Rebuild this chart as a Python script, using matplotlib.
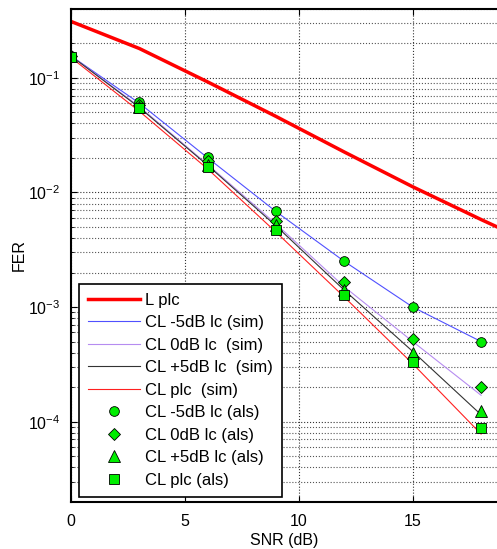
import numpy as np
import matplotlib
matplotlib.use('Agg')
import matplotlib.pyplot as plt
from matplotlib.ticker import LogLocator, NullFormatter

plt.rcParams['font.family'] = ['Liberation Sans', 'DejaVu Sans']

# SNR points (dB)
snr = [0, 3, 6, 9, 12, 15, 18]
# legacy plc, extends past the right edge of the plot
snr_l = [0, 3, 6, 9, 12, 15, 18, 19]
fer_l = [0.31, 0.18, 0.092, 0.046, 0.0225, 0.0112, 0.0058, 0.0047]

# simulated curves
sim_m5 = [0.155, 0.060, 0.0200, 0.0068, 0.0025, 0.00100, 0.00050]
sim_0 = [0.155, 0.056, 0.0175, 0.0053, 0.00150, 0.00050, 0.00017]
sim_p5 = [0.155, 0.055, 0.0172, 0.0051, 0.00140, 0.00041, 0.000115]
sim_plc = [0.150, 0.051, 0.0160, 0.0045, 0.00122, 0.00032, 0.000078]

# analytical points
als_m5 = [0.156, 0.062, 0.0205, 0.0069, 0.0025, 0.00101, 0.000495]
als_0 = [0.155, 0.058, 0.0187, 0.0056, 0.00166, 0.00053, 0.000200]
als_p5 = [0.154, 0.056, 0.0175, 0.0052, 0.00142, 0.00040, 0.000124]
als_plc = [0.152, 0.054, 0.0168, 0.0047, 0.00128, 0.00033, 0.0000887]

fig = plt.figure(figsize=(4.97, 5.49), dpi=100)
ax = fig.add_axes([0.143, 0.086, 0.857, 0.898])

ax.semilogy(snr_l, fer_l, color='red', lw=2.5, label='L plc')
ax.semilogy(snr, sim_m5, color='#5050ff', lw=0.8, label='CL -5dB lc (sim)')
ax.semilogy(snr, sim_0, color='#b68cf0', lw=0.8, label='CL 0dB lc  (sim)')
ax.semilogy(snr, sim_p5, color='#333333', lw=0.8, label='CL +5dB lc  (sim)')
ax.semilogy(snr, sim_plc, color='#ff2020', lw=0.8, label='CL plc  (sim)')

mk = dict(ls='none', mfc='#00ee00', mec='black', mew=0.6)
ax.semilogy(snr, als_m5, marker='o', ms=7, label='CL -5dB lc (als)', **mk)
ax.semilogy(snr, als_0, marker='D', ms=6.5, label='CL 0dB lc (als)', **mk)
ax.semilogy(snr, als_p5, marker='^', ms=8.5, label='CL +5dB lc (als)', **mk)
ax.semilogy(snr, als_plc, marker='s', ms=6.5, label='CL plc (als)', **mk)

ax.set_xlim(0, 18.7)
ax.set_ylim(2e-5, 0.4)
ax.set_xticks([0, 5, 10, 15])
ax.yaxis.set_major_locator(LogLocator(base=10, numticks=10))
ax.yaxis.set_minor_locator(LogLocator(base=10, subs=np.arange(2, 10), numticks=20))
ax.yaxis.set_minor_formatter(NullFormatter())

ax.grid(True, which='major', axis='both', ls=':', color='#333333', lw=0.8)
ax.grid(True, which='minor', axis='y', ls=':', color='#555555', lw=0.8)

ax.tick_params(which='both', direction='in', top=True, right=False, labelsize=11.5)
ax.tick_params(which='major', length=4)
ax.tick_params(which='minor', length=2.5)
ax.tick_params(axis='x', pad=9)
ax.tick_params(axis='y', pad=8)
for s in ['left', 'top', 'bottom']:
    ax.spines[s].set_linewidth(1.5)
ax.spines['right'].set_visible(False)

ax.set_xlabel('SNR (dB)', fontsize=11.5, labelpad=3)
ax.set_ylabel('FER', fontsize=11.5)
ax.yaxis.set_label_coords(-0.105, 0.5)

leg = ax.legend(loc='lower left', bbox_to_anchor=(0.019, 0.01), borderaxespad=0,
                fontsize=12, handlelength=3.1, frameon=True,
                fancybox=False, edgecolor='black', framealpha=1,
                labelspacing=0.45, handletextpad=0.3, borderpad=0.55)
leg.get_frame().set_linewidth(1.2)

fig.savefig('out.png', dpi=100)
